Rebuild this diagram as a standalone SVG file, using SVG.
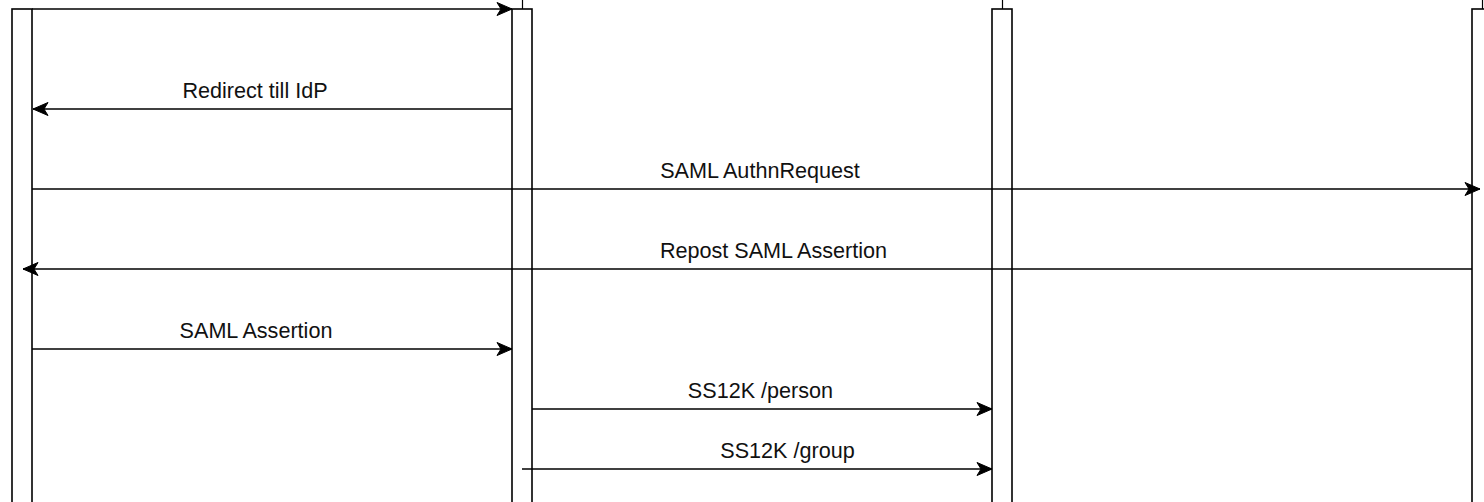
<svg xmlns="http://www.w3.org/2000/svg" width="1484" height="502" viewBox="0 0 1484 502">
  <style>
    .bar { fill: #ffffff; stroke: #000000; stroke-width: 1.6; }
    .life { stroke: #000000; stroke-width: 1.2; fill: none; }
    .msg { stroke: #000000; stroke-width: 1.7; fill: none; marker-end: url(#arrow); }
    .lbl { font-family: "Liberation Sans", Arial, sans-serif; font-size: 21.6px; fill: #111111; text-anchor: middle; }
  </style>
  <defs>
    <marker id="arrow" markerUnits="userSpaceOnUse" markerWidth="18" markerHeight="14" refX="16" refY="7" orient="auto" viewBox="0 0 18 14">
      <path d="M1,0.5 L16,7 L1,13.5 L5,7 Z" fill="#000000" stroke="#000000" stroke-width="1" stroke-linejoin="miter"/>
    </marker>
  </defs>
  <rect width="1484" height="502" fill="#ffffff"/>
  <g id="participant-user">
    <rect class="bar" x="12" y="9" width="20" height="520"/>
  </g>
  <g id="participant-sp">
    <line class="life" x1="522.5" y1="0" x2="522.5" y2="9"/>
    <rect class="bar" x="512" y="9" width="20" height="520"/>
  </g>
  <g id="participant-ss12k">
    <line class="life" x1="1002.5" y1="0" x2="1002.5" y2="9"/>
    <rect class="bar" x="992" y="9" width="20" height="520"/>
  </g>
  <g id="participant-idp">
    <line class="life" x1="1482.5" y1="0" x2="1482.5" y2="9"/>
    <rect class="bar" x="1472" y="9" width="20" height="520"/>
  </g>
  <g id="connectors">
    <line class="msg" x1="32" y1="9" x2="512" y2="9"/>
    <line class="msg" x1="512" y1="109" x2="33" y2="109"/>
    <line class="msg" x1="32" y1="189" x2="1480" y2="189"/>
    <line class="msg" x1="1472" y1="269" x2="23" y2="269"/>
    <line class="msg" x1="32" y1="349" x2="512" y2="349"/>
    <line class="msg" x1="532" y1="409" x2="992" y2="409"/>
    <line class="msg" x1="522" y1="469" x2="992" y2="469"/>
  </g>
  <g id="labels">
    <text class="lbl" x="255" y="97.5">Redirect till IdP</text>
    <text class="lbl" x="760" y="177.5">SAML AuthnRequest</text>
    <text class="lbl" x="773.5" y="257.5">Repost SAML Assertion</text>
    <text class="lbl" x="256" y="337.5">SAML Assertion</text>
    <text class="lbl" x="760.5" y="397.5">SS12K /person</text>
    <text class="lbl" x="787.5" y="457.5">SS12K /group</text>
  </g>
</svg>
